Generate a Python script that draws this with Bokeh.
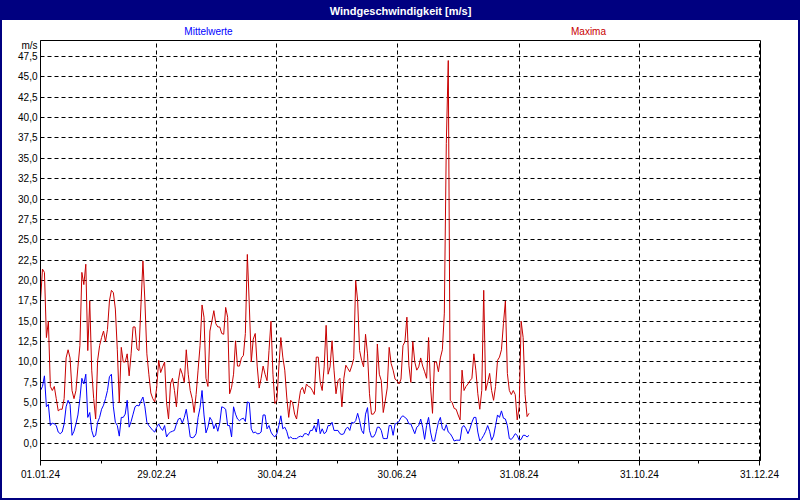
from datetime import datetime, timedelta
from bokeh.plotting import figure
from bokeh.layouts import column
from bokeh.models import Range1d, FixedTicker, DatetimeTickFormatter, CustomJSTickFormatter, Label
from bokeh.embed import file_html
from bokeh.resources import INLINE

# ---------------- data ----------------
start_date = "2024-01-01"

mittelwerte = [
    6.5, 7.0, 8.3, 4.5, 4.8, 2.2, 2.5, 2.4, 2.2, 1.4,
    1.2, 1.4, 2.4, 4.5, 5.3, 4.8, 1.0, 1.5, 2.4, 3.5,
    5.5, 8.0, 7.3, 8.5, 3.2, 3.8, 1.6, 0.8, 1.0, 2.6,
    3.2, 4.2, 4.7, 5.5, 6.5, 8.2, 8.5, 4.5, 2.6, 2.2,
    0.9, 3.2, 3.2, 3.6, 5.3, 2.0, 2.7, 3.6, 4.5, 4.7,
    4.6, 5.2, 5.7, 4.5, 2.6, 2.2, 1.9, 1.6, 1.4, 2.0,
    2.4, 1.9, 1.6, 2.2, 0.8, 1.2, 1.4, 1.5, 1.6, 2.4,
    3.0, 3.1, 2.5, 3.2, 4.2, 2.6, 0.8, 0.7, 0.8, 1.2,
    3.2, 4.4, 6.5, 3.5, 1.3, 2.0, 3.2, 2.8, 1.8, 2.4,
    1.5, 2.5, 4.5, 4.4, 4.2, 2.2, 2.2, 0.8, 4.5, 3.6,
    3.0, 2.8, 3.0, 3.1, 2.7, 5.1, 5.0, 1.8, 1.3, 1.4,
    1.2, 1.2, 1.4, 3.5, 3.5, 1.8, 2.2, 1.4, 1.0, 0.8,
    1.2, 2.2, 3.4, 1.8, 2.0, 1.5, 0.6, 0.8, 0.6, 0.6,
    0.6, 0.8, 0.9, 0.8, 1.2, 1.2, 1.0, 1.6, 1.6, 2.2,
    1.4, 3.0, 1.2, 1.8, 1.2, 1.4, 2.2, 2.2, 2.6, 1.6,
    1.6, 1.6, 1.2, 1.1, 1.2, 1.8, 2.0, 1.6, 2.6, 2.5,
    2.8, 3.7, 2.8, 1.6, 1.2, 3.6, 4.4, 1.6, 0.8, 0.8,
    1.2, 2.0, 2.0, 1.6, 0.6, 0.6, 0.6, 2.2, 2.2, 1.0,
    2.4, 2.5, 2.7, 3.2, 3.4, 3.2, 3.0, 2.4, 2.4, 1.8,
    1.2, 2.0, 2.2, 3.0, 2.0, 0.5, 2.2, 3.2, 1.4, 0.3,
    0.3, 1.5, 2.6, 3.2, 1.8, 1.6, 2.3, 1.4, 1.2, 0.8,
    0.3, 0.4, 0.4, 0.4, 2.0, 2.2, 1.8, 1.2, 1.8, 2.6,
    3.2, 3.2, 1.4, 0.3, 0.6, 1.0, 1.5, 2.2, 1.5, 0.4,
    0.9, 2.2, 3.5, 3.2, 4.0, 3.1, 3.0, 2.2, 0.6, 0.5,
    0.8, 1.2, 1.0, 0.4, 0.5, 1.0, 1.0, 0.8, 1.0,
]

maxima = [
    17.5, 21.4, 21.0, 13.0, 15.0, 7.0, 6.5, 7.0, 5.5, 4.0,
    4.2, 4.2, 5.5, 10.5, 11.5, 10.5, 6.5, 5.5, 6.5, 9.4,
    12.0, 21.0, 19.5, 22.0, 11.4, 17.5, 9.0, 5.5, 3.0, 10.2,
    12.0, 13.0, 13.8, 12.5, 14.0, 17.5, 18.8, 18.5, 16.5, 11.5,
    5.0, 11.8, 10.0, 10.0, 11.0, 8.3, 11.0, 14.3, 14.3, 11.6,
    11.4, 17.0, 22.4, 17.5, 11.0, 8.5, 6.2, 5.5, 5.1, 6.9,
    10.2, 8.7, 9.4, 10.0, 5.0, 3.0, 7.3, 8.0, 6.5, 4.5,
    7.7, 9.2, 8.5, 7.5, 11.5, 8.5, 6.5, 5.5, 3.8, 6.0,
    9.0, 12.0, 17.0, 15.5, 8.0, 7.0, 13.8, 15.0, 16.3, 14.7,
    14.3, 14.3, 13.5, 13.4, 16.7, 15.5, 6.1, 6.9, 8.5, 12.6,
    9.5, 9.5, 10.5, 10.8, 13.5, 23.2, 17.0, 10.0, 12.8, 13.5,
    9.5, 6.8, 8.0, 9.5, 8.5, 7.7, 11.4, 15.0, 8.5, 4.9,
    5.3, 9.4, 13.0, 10.6, 9.0, 5.7, 3.2, 5.3, 5.0, 3.6,
    3.0, 4.9, 6.5, 6.9, 6.1, 7.3, 7.0, 6.9, 6.5, 6.0,
    10.6, 10.6, 7.5, 6.5, 9.4, 14.5, 8.5, 9.4, 12.6, 9.0,
    6.1, 7.7, 8.0, 4.5, 8.0, 9.6, 9.2, 8.8, 9.5, 10.4,
    20.0, 17.5, 11.4, 10.2, 9.4, 13.4, 11.0, 6.1, 3.6, 3.6,
    4.0, 12.2, 8.5, 7.7, 3.8, 5.2, 6.8, 11.8, 9.8, 9.0,
    7.9, 7.7, 7.3, 7.9, 12.0, 12.5, 15.5, 9.6, 7.5, 12.5,
    10.0, 9.0, 9.4, 10.5, 9.5, 8.8, 8.0, 13.0, 7.0, 3.7,
    10.0, 10.0, 8.8, 10.5, 11.5, 16.0, 36.8, 47.0, 5.3, 5.0,
    4.3, 4.2, 3.5, 2.9, 9.0, 6.5, 7.0, 7.3, 7.7, 8.0,
    11.0, 9.0, 6.1, 4.2, 6.5, 18.8, 6.5, 7.5, 8.6, 6.5,
    5.3, 7.0, 10.2, 10.6, 11.5, 14.7, 17.5, 8.6, 6.5, 6.0,
    6.5, 6.0, 2.9, 4.5, 15.0, 13.0, 6.0, 3.3, 3.7,
]

major_tick_dates = ["2024-01-01", "2024-02-29", "2024-04-30", "2024-06-30",
                    "2024-08-31", "2024-10-31", "2024-12-31"]
minor_tick_dates = ["2024-02-01", "2024-03-31", "2024-05-31", "2024-07-31",
                    "2024-09-30", "2024-11-30"]
y_ticks = [0.0, 2.5, 5.0, 7.5, 10.0, 12.5, 15.0, 17.5, 20.0, 22.5,
           25.0, 27.5, 30.0, 32.5, 35.0, 37.5, 40.0, 42.5, 45.0, 47.5]

title_text = "Windgeschwindigkeit [m/s]"
series_names = ["Mittelwerte", "Maxima"]
unit_text = "m/s"

# ---------------- helpers ----------------
EPOCH = datetime(1970, 1, 1)
DAY_MS = 86400000.0


def to_ms(d):
    return (d - EPOCH).total_seconds() * 1000.0


t0 = datetime.strptime(start_date, "%Y-%m-%d")
dates = [t0 + timedelta(days=i) for i in range(len(maxima))]
major_ms = [to_ms(datetime.strptime(s, "%Y-%m-%d")) for s in major_tick_dates]
minor_ms = [to_ms(datetime.strptime(s, "%Y-%m-%d")) for s in minor_tick_dates]

NAVY = "#000080"
RED = "#C80000"
BLUE = "#0000FF"
FONT = "Liberation Sans"

W = 800
HEAD_H = 39            # header strip (title bar + series names)
MAIN_H = 500 - HEAD_H  # main chart
# frame geometry inside the main figure (pixels)
FL, FR, FT, FB = 40, 760, 1, MAIN_H - 40

x_start = to_ms(t0)
x_end = x_start + 365.5 * DAY_MS
y_start, y_end = -2.09, 49.46


def val_at_py(py_abs):
    """data value of the main y scale at an absolute page pixel row"""
    py = py_abs - HEAD_H
    return y_start + (FB - py) / (FB - FT) * (y_end - y_start)


# ---------------- header strip ----------------
# the column layout aligns this frame with the main frame (x = 40..760),
# so its x range is expressed in page pixels over that span
h = figure(width=W, height=HEAD_H, title=None,
           x_range=Range1d(FL, FR), y_range=Range1d(HEAD_H, 0),
           x_axis_location=None, y_axis_location=None,
           output_backend="svg", toolbar_location=None,
           min_border=0, min_border_left=0, min_border_right=0,
           min_border_top=0, min_border_bottom=0)
h.grid.visible = False
h.outline_line_color = None
h.background_fill_color = None
h.border_fill_color = None
h.styles = {
    "background": f"linear-gradient(to bottom, {NAVY} 0px, {NAVY} 20px, #ffffff 20px, #ffffff 100%)",
    "box-shadow": f"inset 2px 0 0 {NAVY}, inset -2px 0 0 {NAVY}",
}
h.add_layout(Label(x=400, y=10, text=title_text, text_align="center",
                   text_baseline="middle", text_color="white", text_font=FONT,
                   text_font_size="11px", text_font_style="bold"))
h.add_layout(Label(x=208, y=31, text=series_names[0], text_align="center",
                   text_baseline="middle", text_color=BLUE, text_font=FONT,
                   text_font_size="10px"))
h.add_layout(Label(x=588, y=31, text=series_names[1], text_align="center",
                   text_baseline="middle", text_color=RED, text_font=FONT,
                   text_font_size="10px"))

# ---------------- main chart ----------------
p = figure(width=W, height=MAIN_H, title=None, x_axis_type="datetime",
           x_range=Range1d(x_start, x_end), y_range=Range1d(y_start, y_end),
           output_backend="svg", toolbar_location=None,
           min_border_left=FL, min_border_right=W - FR,
           min_border_top=FT, min_border_bottom=MAIN_H - FB)
p.border_fill_color = None
p.background_fill_color = "white"
p.outline_line_color = "black"
p.outline_line_width = 1
p.styles = {
    "background": "#ffffff",
    "box-shadow": f"inset 2px 0 0 {NAVY}, inset -2px 0 0 {NAVY}, inset 0 -2px 0 {NAVY}",
}

# x axis
xt = FixedTicker(ticks=major_ms, minor_ticks=minor_ms)
xa = p.xaxis[0]
xa.ticker = xt
fmt = "%d.%m.%y"
xa.formatter = DatetimeTickFormatter(milliseconds=fmt, seconds=fmt, minsec=fmt, minutes=fmt,
                                     hourmin=fmt, hours=fmt, days=fmt, months=fmt, years=fmt)
xa.major_tick_out = 5
xa.major_tick_in = 0
xa.minor_tick_out = 3
xa.minor_tick_in = 0
xa.major_label_standoff = 4
xa.axis_line_color = "black"
xa.major_tick_line_color = "black"
xa.minor_tick_line_color = "black"
xa.major_label_text_font = FONT
xa.major_label_text_font_size = "10px"
xa.major_label_text_color = "black"

# y axis: value ticks plus the unit caption placed just above the top tick
unit_pos = val_at_py(44.5)
yt_grid = FixedTicker(ticks=y_ticks, minor_ticks=[])
yt_axis = FixedTicker(ticks=y_ticks + [unit_pos], minor_ticks=[])
ya = p.yaxis[0]
ya.ticker = yt_axis
ya.formatter = CustomJSTickFormatter(
    args=dict(unit=unit_text, top=y_ticks[-1]),
    code="return tick > top + 0.5 ? unit : tick.toFixed(1).replace('.', ',');")
ya.major_tick_out = 0
ya.major_tick_in = 0
ya.minor_tick_out = 0
ya.minor_tick_in = 0
ya.major_label_standoff = 3
ya.axis_line_color = "black"
ya.major_label_text_font = FONT
ya.major_label_text_font_size = "10px"
ya.major_label_text_color = "black"

# grids
p.xgrid.ticker = xt
p.ygrid.ticker = yt_grid
for g in (p.xgrid[0], p.ygrid[0]):
    g.grid_line_color = "black"
    g.grid_line_alpha = 1.0
    g.grid_line_width = 1
    g.grid_line_dash = "4 3"

# series
p.line(dates, maxima, line_color=RED, line_width=1)
p.line(dates, mittelwerte, line_color=BLUE, line_width=1)

layout = column(h, p, spacing=0)
open("out.html", "w").write(file_html(layout, INLINE))
